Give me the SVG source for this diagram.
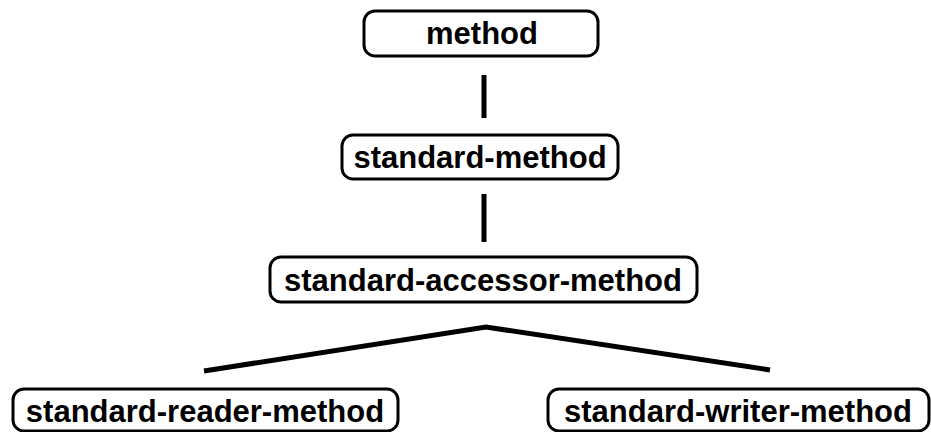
<svg xmlns="http://www.w3.org/2000/svg" width="931" height="432" viewBox="0 0 931 432">
<style>
.box{fill:#fff;stroke:#000;stroke-width:3}
.lbl{font-family:"Liberation Sans",Arial,sans-serif;font-weight:bold;font-size:31px;fill:#000;text-anchor:middle}
.edge{stroke:#000;stroke-width:5;fill:none}
</style>
<rect width="931" height="432" fill="#fff"/>
<g id="connectors">
<line class="edge" x1="484" y1="75" x2="484" y2="118"/>
<line class="edge" x1="484" y1="194" x2="484" y2="242"/>
<polyline class="edge" points="204,371 486,327 770,370"/>
</g>
<g id="method">
<rect class="box" x="364" y="11" width="234" height="45" rx="11"/>
<text class="lbl" x="482" y="44">method</text>
</g>
<g id="standard-method">
<rect class="box" x="342" y="135" width="276" height="44" rx="11"/>
<text class="lbl" x="480" y="168">standard-method</text>
</g>
<g id="standard-accessor-method">
<rect class="box" x="270" y="257" width="427" height="45" rx="11"/>
<text class="lbl" x="483" y="291">standard-accessor-method</text>
</g>
<g id="standard-reader-method">
<rect class="box" x="13" y="389" width="385" height="42" rx="11"/>
<text class="lbl" x="205" y="422">standard-reader-method</text>
</g>
<g id="standard-writer-method">
<rect class="box" x="548" y="389" width="381" height="42" rx="11"/>
<text class="lbl" x="738" y="422">standard-writer-method</text>
</g>
</svg>
